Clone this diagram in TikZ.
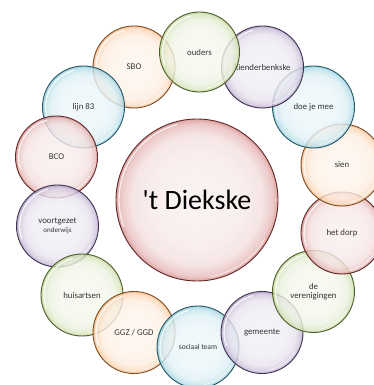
\documentclass[tikz,border=0pt]{standalone}
\usepackage{fontspec}
\setmainfont{Carlito}
\definecolor{cgreen}{HTML}{9BBB59}
\definecolor{corange}{HTML}{F79646}
\definecolor{caqua}{HTML}{4BACC6}
\definecolor{cred}{HTML}{C0504D}
\definecolor{cpurple}{HTML}{8064A2}
\definecolor{labeltext}{HTML}{333333}
\colorlet{bcol}{cred}
\pgfdeclareradialshading[bcol]{bubble}{\pgfpoint{0bp}{0bp}}{%
  color(0bp)=(bcol!9!white); color(14bp)=(bcol!12!white);
  color(20bp)=(bcol!18!white); color(23.5bp)=(bcol!38!white);
  color(25bp)=(bcol!65!white); color(50bp)=(bcol!65!white)}
\tikzset{
  bub/.style n args={2}{circle, inner sep=0pt, minimum size=2*#2,
    /utils/exec={\colorlet{bcol}{#1}}, shade, shading=bubble,
    draw=#1!50!black, line width=0.9pt, fill opacity=0.8, text opacity=1,
    align=center, text=labeltext, font=\fontsize{8.8}{9.5}\selectfont,
    path picture={
      \draw[white, line width=1.3pt, draw opacity=0.8, line cap=round]
        ([shift={(105:#2-3)}]path picture bounding box.center)
        arc[start angle=105, end angle=200, radius=#2-3];
      \draw[white, line width=1pt, draw opacity=0.6, line cap=round]
        ([shift={(280:#2-3)}]path picture bounding box.center)
        arc[start angle=280, end angle=330, radius=#2-3];
    }},
}
\begin{document}
\begin{tikzpicture}[x=1pt,y=1pt]
\useasboundingbox (0,0) rectangle (373,385);
\node[bub={cred}{81}, text=black, font=\fontsize{28}{30}\selectfont] (centre) at (197,185) {\textquotesingle t Diekske};
\node[bub={corange}{41}] (sbo) at (134,318) {SBO};
\node[bub={caqua}{41}] (lijn) at (83.5,278) {lijn 83};
\node[bub={cred}{41}] (bco) at (56.5,228) {BCO};
\node[bub={cpurple}{41}] (vo) at (57.5,159) {voortgezet\\[-1pt]{\fontsize{7}{8}\selectfont onderwijs}};
\node[bub={cgreen}{41}] (huis) at (82,90) {huisartsen};
\node[bub={corange}{41}] (ggz) at (134,52.5) {GGZ / GGD};
\node[bub={caqua}{41}] (social) at (198,38) {{\fontsize{7.5}{8}\selectfont sociaal team}};
\node[bub={cpurple}{41}] (gem) at (262,52.5) {gemeente};
\node[bub={cgreen}{41}] (ver) at (313.5,93.5) {de\\verenigingen};
\node[bub={cred}{41}] (dorp) at (342,152) {het dorp};
\node[bub={corange}{41}] (sien) at (342,220) {sien};
\node[bub={caqua}{41}] (doe) at (313.5,278) {doe je mee};
\node[bub={cpurple}{41}] (kien) at (262.5,318) {kienderbenkske};
\node[bub={cgreen}{40}] (ouders) at (199.5,333) {ouders};
\end{tikzpicture}
\end{document}
